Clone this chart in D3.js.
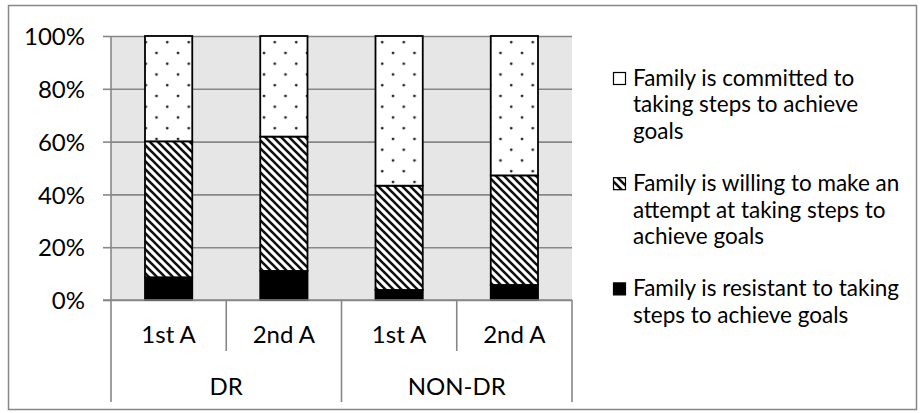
<!DOCTYPE html>
<html>
<head>
<meta charset="utf-8">
<script src="https://cdn.jsdelivr.net/npm/d3@7"></script>
<style>
  body { margin: 0; background: #fff; }
  text { font-family: Lato, "Open Sans", sans-serif; fill: #000; }
</style>
</head>
<body>
<svg id="chart" width="920" height="413"></svg>
<script>
// Share of families by readiness to take steps, per assessment and group
const groups = ["DR", "NON-DR"];
const visits = ["1st A", "2nd A"];
const resistant = [8.6, 11.0, 3.8, 5.7];
const willing   = [51.5, 50.9, 39.5, 41.5];
const committed = [39.9, 38.1, 56.7, 52.8];
const yTicks = [0, 20, 40, 60, 80, 100];
const seriesKeys = ["resistant", "willing", "committed"];
const legendLines = {
  committed: ["Family is committed to", "taking steps to achieve", "goals"],
  willing:   ["Family is willing to make an", "attempt at taking steps to", "achieve goals"],
  resistant: ["Family is resistant to taking", "steps to achieve goals"]
};

const rows = [];
groups.forEach((g, gi) => visits.forEach((v, vi) => {
  const i = gi * visits.length + vi;
  rows.push({ id: g + "|" + v, group: g, visit: v,
              resistant: resistant[i], willing: willing[i], committed: committed[i] });
}));

const svg = d3.select("#chart");
const plot = { left: 111, right: 572, top: 36, bottom: 300 };
const axisGrey = "#878787";

// patterns
const defs = svg.append("defs");
const dots = defs.append("pattern").attr("id", "dots")
  .attr("patternUnits", "userSpaceOnUse").attr("width", 21.5).attr("height", 21.5)
  .attr("x", 1).attr("y", 5);
dots.append("rect").attr("width", 21.5).attr("height", 21.5).attr("fill", "#fff");
dots.append("circle").attr("cx", 5).attr("cy", 5).attr("r", 1.4).attr("fill", "#222");
dots.append("circle").attr("cx", 15.75).attr("cy", 15.75).attr("r", 1.4).attr("fill", "#222");

const hatch = defs.append("pattern").attr("id", "hatch")
  .attr("patternUnits", "userSpaceOnUse").attr("width", 8).attr("height", 8);
hatch.append("rect").attr("width", 8).attr("height", 8).attr("fill", "#fff");
hatch.append("path").attr("d", "M-2,-2 L10,10 M-2,6 L2,10 M6,-2 L10,2")
  .attr("stroke", "#111").attr("stroke-width", 2.6);

const fills = { committed: "url(#dots)", willing: "url(#hatch)", resistant: "#000" };

// outer frame
svg.append("rect").attr("x", 8.5).attr("y", 5.5).attr("width", 908).attr("height", 404)
  .attr("fill", "none").attr("stroke", axisGrey).attr("stroke-width", 1.5);

// scales
const x = d3.scaleBand().domain(rows.map(d => d.id)).range([plot.left, plot.right]).padding(0);
const y = d3.scaleLinear().domain([0, 100]).range([plot.bottom, plot.top]);
const barW = x.bandwidth() * 0.41;

// plot background
svg.append("rect").attr("x", plot.left).attr("y", plot.top)
  .attr("width", plot.right - plot.left).attr("height", plot.bottom - plot.top)
  .attr("fill", "#e6e6e6");

// y axis with gridlines
const yAxis = d3.axisLeft(y).tickValues(yTicks).tickFormat(d => d + "%")
  .tickSizeInner(-(plot.right - plot.left)).tickSizeOuter(0).tickPadding(26);
const ya = svg.append("g").attr("transform", `translate(${plot.left},0)`).call(yAxis);
ya.select(".domain").remove();
ya.selectAll(".tick line").attr("stroke", axisGrey).attr("stroke-width", 1.6);
ya.selectAll(".tick").append("line").attr("x1", -8).attr("x2", 0)
  .attr("stroke", axisGrey).attr("stroke-width", 1.6);
ya.selectAll(".tick text").attr("font-size", 24).attr("fill", "#000")
  .attr("font-family", "Lato, sans-serif").attr("dy", "0.36em");

// stacked bars
const stack = d3.stack().keys(seriesKeys)(rows);
svg.append("g").selectAll("g").data(stack).join("g")
  .attr("fill", s => fills[s.key])
  .selectAll("rect").data(s => s.map(p => ({ p, id: p.data.id }))).join("rect")
  .attr("x", d => x(d.id) + (x.bandwidth() - barW) / 2)
  .attr("y", d => y(d.p[1]))
  .attr("width", barW)
  .attr("height", d => y(d.p[0]) - y(d.p[1]))
  .attr("stroke", "#000").attr("stroke-width", 1.8);

// category axis: vertical axis line continues down as the outer divider
svg.append("line").attr("x1", plot.left).attr("x2", plot.left)
  .attr("y1", plot.top).attr("y2", 402).attr("stroke", axisGrey).attr("stroke-width", 1.6);
svg.append("line").attr("x1", plot.left - 8).attr("x2", plot.right)
  .attr("y1", plot.bottom).attr("y2", plot.bottom).attr("stroke", axisGrey).attr("stroke-width", 1.6);

// dividers between visits (short) and between groups (long)
const step = x.step();
rows.forEach((d, i) => {
  const xr = x(d.id) + step;
  const long = (i % visits.length) === visits.length - 1;
  svg.append("line").attr("x1", xr).attr("x2", xr)
    .attr("y1", plot.bottom).attr("y2", long ? 402 : 351)
    .attr("stroke", axisGrey).attr("stroke-width", 1.6);
});

svg.append("g").selectAll("text").data(rows).join("text")
  .attr("x", d => x(d.id) + step / 2).attr("y", 343)
  .attr("text-anchor", "middle").attr("font-size", 24).text(d => d.visit);

svg.append("g").selectAll("text").data(groups).join("text")
  .attr("x", (g, gi) => plot.left + step * visits.length * (gi + 0.5)).attr("y", 395)
  .attr("text-anchor", "middle").attr("font-size", 24).text(g => g);

// legend
const lineH = 26.3;
const legend = svg.append("g");
let lineIdx = 0;
["committed", "willing", "resistant"].forEach(k => {
  const base = 86 + lineH * lineIdx;
  legend.append("rect").attr("x", 613.5).attr("y", base - 13.5).attr("width", 12).attr("height", 12)
    .attr("fill", k === "committed" ? "#fff" : fills[k]).attr("stroke", "#000").attr("stroke-width", 1.2);
  legendLines[k].forEach((t, j) => {
    legend.append("text").attr("x", 633).attr("y", base + lineH * j)
      .attr("font-size", 22.5).text(t);
  });
  lineIdx += legendLines[k].length + 1;
});
</script>
</body>
</html>
